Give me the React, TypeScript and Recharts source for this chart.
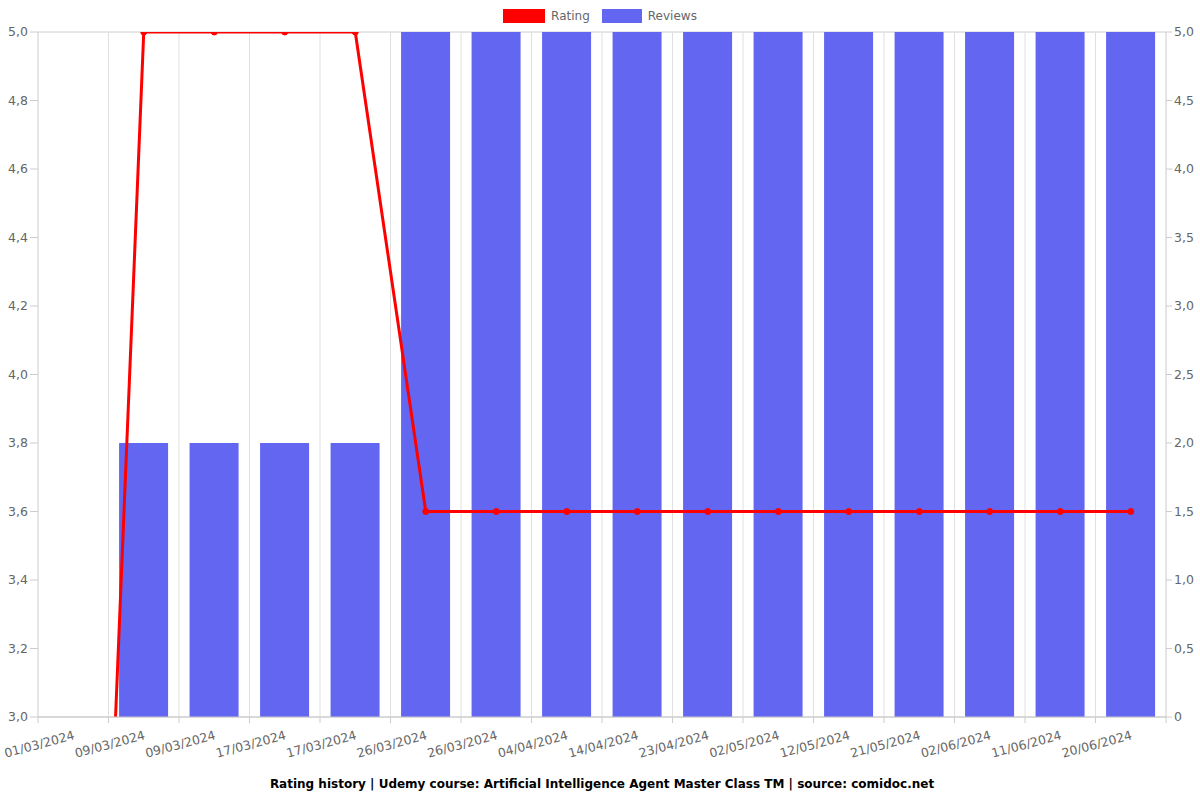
import React from 'react';
import {
  ComposedChart, Bar, Line, XAxis, YAxis, CartesianGrid, Legend,
} from 'recharts';

const dates = [
  '01/03/2024', '09/03/2024', '09/03/2024', '17/03/2024', '17/03/2024', '26/03/2024',
  '26/03/2024', '04/04/2024', '14/04/2024', '23/04/2024', '02/05/2024', '12/05/2024',
  '21/05/2024', '02/06/2024', '11/06/2024', '20/06/2024',
];
const ratings = [0, 5, 5, 5, 5, 3.6, 3.6, 3.6, 3.6, 3.6, 3.6, 3.6, 3.6, 3.6, 3.6, 3.6];
const reviews = [0, 2, 2, 2, 2, 5, 5, 5, 5, 5, 5, 5, 5, 5, 5, 5];

const leftTicks = [3, 3.2, 3.4, 3.6, 3.8, 4, 4.2, 4.4, 4.6, 4.8, 5];
const rightTicks = [0, 0.5, 1, 1.5, 2, 2.5, 3, 3.5, 4, 4.5, 5];

const data = dates.map((d, i) => ({ date: d, rating: ratings[i], reviews: reviews[i] }));

const W = 1200;
const H = 800;
const LEFT_W = 38;
const RIGHT_W = 34;
const BAND = (W - LEFT_W - RIGHT_W) / dates.length;
const FONT = 'DejaVu Sans, sans-serif';
const GRID = '#cccccc';
const TEXT = '#666666';

const comma = (v: number) => (v === 0 ? '0' : v.toFixed(1).replace('.', ','));

const DateTick = (props: any) => {
  const { x, y, payload, index } = props;
  return (
    <g>
      <line x1={x - BAND / 2} y1={y - 8} x2={x - BAND / 2} y2={y - 2} stroke={GRID} />
      {index === dates.length - 1 && (
        <line x1={x + BAND / 2} y1={y - 8} x2={x + BAND / 2} y2={y - 2} stroke={GRID} />
      )}
      <text
        x={x + 2}
        y={y + 14}
        textAnchor="end"
        transform={`rotate(-15, ${x + 2}, ${y + 14})`}
        fill={TEXT}
        fontSize={12.5}
        fontFamily={FONT}
      >
        {payload.value}
      </text>
    </g>
  );
};

const LegendContent = () => (
  <div style={{ display: 'flex', justifyContent: 'center', gap: 12, fontFamily: FONT, fontSize: 12, color: TEXT }}>
    <span style={{ display: 'flex', alignItems: 'center', gap: 6 }}>
      <span style={{ width: 42, height: 14, background: '#ff0000', display: 'inline-block' }} />
      Rating
    </span>
    <span style={{ display: 'flex', alignItems: 'center', gap: 6 }}>
      <span style={{ width: 40, height: 14, background: '#6366f1', display: 'inline-block' }} />
      Reviews
    </span>
  </div>
);

export default function App() {
  return (
    <div style={{ position: 'absolute', left: 0, top: 0, width: W, height: H, background: '#fff' }}>
      <ComposedChart width={W} height={H} data={data} margin={{ top: 18, right: 0, left: 0, bottom: 0 }} barCategoryGap="15%">
        <CartesianGrid vertical={false} stroke={GRID} />
        <CartesianGrid
          horizontal={false}
          stroke="#e0e0e0"
          verticalCoordinatesGenerator={({ offset }: any) =>
            dates.slice(1).map((_, i) => offset.left + (i + 1) * (offset.width / dates.length))
          }
        />
        <Legend
          verticalAlign="top"
          content={<LegendContent />}
          wrapperStyle={{ top: 9, left: 0, width: W }}
        />
        <XAxis
          dataKey="date"
          interval={0}
          height={H - 32 - 685}
          stroke={GRID}
          tickLine={false}
          tick={<DateTick />}
          label={{
            value: 'Rating history | Udemy course: Artificial Intelligence Agent Master Class TM | source: comidoc.net',
            position: 'insideBottom',
            offset: 12,
            fill: '#000',
            fontSize: 12,
            fontWeight: 'bold',
            fontFamily: FONT,
          }}
        />
        <YAxis
          yAxisId="left"
          width={LEFT_W}
          domain={[3, 5]}
          ticks={leftTicks}
          allowDataOverflow
          tickFormatter={comma}
          stroke={GRID}
          tickSize={8}
          tick={{ fill: TEXT, fontSize: 12.5, fontFamily: FONT }}
        />
        <YAxis
          yAxisId="right"
          orientation="right"
          width={RIGHT_W}
          domain={[0, 5]}
          ticks={rightTicks}
          tickFormatter={comma}
          stroke={GRID}
          tickSize={6}
          tick={{ fill: TEXT, fontSize: 12.5, fontFamily: FONT }}
        />
        <Bar yAxisId="right" dataKey="reviews" name="Reviews" fill="#6366f1" isAnimationActive={false} />
        <Line
          yAxisId="left"
          dataKey="rating"
          name="Rating"
          type="linear"
          stroke="#ff0000"
          strokeWidth={3}
          dot={{ r: 3, fill: '#ff0000', stroke: '#ff0000', strokeWidth: 1 }}
          isAnimationActive={false}
        />
      </ComposedChart>
    </div>
  );
}
